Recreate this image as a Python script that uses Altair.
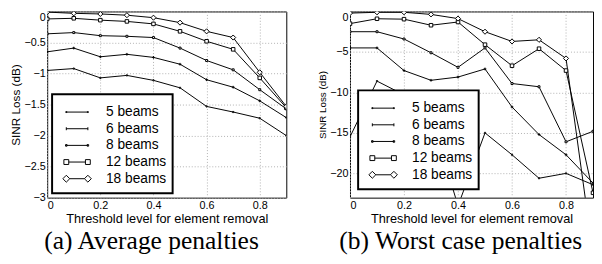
import altair as alt
import pandas as pd

thresholds = [0.0, 0.1, 0.2, 0.3, 0.4, 0.5, 0.6, 0.7, 0.8, 0.9]
series = ["5 beams", "6 beams", "8 beams", "12 beams", "18 beams"]

# (a) Average penalties, SINR loss in dB
avg_5 = [-0.95, -0.92, -1.07, -1.03, -1.11, -1.23, -1.53, -1.62, -1.72, -2.00]
avg_6 = [-0.65, -0.59, -0.73, -0.69, -0.74, -0.85, -1.10, -1.22, -1.44, -1.71]
avg_8 = [-0.36, -0.34, -0.39, -0.40, -0.42, -0.59, -0.79, -0.94, -1.26, -1.57]
avg_12 = [-0.12, -0.11, -0.14, -0.16, -0.20, -0.32, -0.48, -0.61, -1.07, -1.55]
avg_18 = [-0.01, -0.03, -0.04, -0.06, -0.10, -0.18, -0.32, -0.42, -0.98, -1.53]

# (b) Worst case penalties, SINR loss in dB
worst_5 = [-15.5, -8.6, -10.3, -13.0, -24.0, -15.0, -17.7, -20.6, -20.0, -21.4]
worst_6 = [-4.5, -4.5, -7.3, -8.5, -8.1, -7.1, -11.8, -15.2, -17.7, -21.2]
worst_8 = [-2.5, -2.5, -3.4, -5.1, -6.9, -4.5, -8.9, -9.3, -16.1, -14.8]
worst_12 = [-1.5, -0.9, -0.95, -1.7, -1.3, -4.1, -6.7, -4.6, -7.3, -22.4]
worst_18 = [-0.2, -0.1, -0.1, -0.36, -0.88, -2.5, -3.7, -3.5, -5.8, -30.0]

x_ticks = [0, 0.2, 0.4, 0.6, 0.8]
avg_ticks = [0, -0.5, -1, -1.5, -2, -2.5, -3]
worst_ticks = [0, -5, -10, -15, -20]
x_title = "Threshold level for element removal"
y_title = "SINR Loss (dB)"
captions = ["(a) Average penalties", "(b) Worst case penalties"]


def to_long(all_vals):
    rows = []
    for s, vals in zip(series, all_vals):
        for t, v in zip(thresholds, vals):
            rows.append({"threshold": t, "loss": v, "series": s})
    return pd.DataFrame(rows)


# marker glyphs for the plotted points (unit box scaled by size)
marker_paths = [
    "M-0.3,-0.3H0.3V0.3H-0.3Z",
    "M-0.7,0H0.7M0,-0.7V0.7",
    "M-0.5,-0.5H0.5V0.5H-0.5Z",
    "M-0.9,-0.9H0.9V0.9H-0.9Z",
    "M0,-1.3L1.3,0L0,1.3L-1.3,0Z",
]
# legend glyphs: a line sample with the marker at both ends (1 unit = 8 px)
legend_paths = [
    "M-1.375,0H1.375M-1.44,-0.06H-1.31V0.06H-1.44ZM1.31,-0.06H1.44V0.06H1.31Z",
    "M-1.375,0H1.375M-1.375,-0.19V0.19M1.375,-0.19V0.19",
    "M-1.375,0H1.375M-1.475,-0.1H-1.275V0.1H-1.475ZM1.275,-0.1H1.475V0.1H1.275Z",
    "M-1.065,0H1.065M-1.685,-0.31H-1.065V0.31H-1.685ZM1.065,-0.31H1.685V0.31H1.065Z",
    "M-0.935,0H0.935M-1.375,-0.44L-0.935,0L-1.375,0.44L-1.815,0ZM1.375,-0.44L1.815,0L1.375,0.44L0.935,0Z",
]

FONT = "Liberation Sans"
top_label_baseline = {"condition": {"test": "datum.value == 0", "value": "top"}, "value": "middle"}


def panel(df, ydom, yticks, ytitle_size, lx, ly, caption, cap_dx, width):
    x = alt.X(
        "threshold:Q",
        scale=alt.Scale(domain=[0, 0.9], nice=False, zero=False),
        axis=alt.Axis(values=x_ticks, title=x_title, format="~g"),
    )
    y = alt.Y(
        "loss:Q",
        scale=alt.Scale(domain=ydom, nice=False, zero=False),
        axis=alt.Axis(
            values=yticks,
            title=y_title,
            titleFontSize=ytitle_size,
            format="~g",
            labelBaseline=top_label_baseline,
        ),
    )
    base = alt.Chart(df)
    lines = base.mark_line(color="black", strokeWidth=1, clip=True).encode(
        x=x, y=y, detail="series:N"
    )
    pts = base.mark_point(
        filled=True, fill="white", stroke="black", strokeWidth=1, size=16, opacity=1, clip=True
    ).encode(
        x=x,
        y=y,
        shape=alt.Shape("series:N", scale=alt.Scale(domain=series, range=marker_paths), legend=None),
    )
    leg = base.transform_filter("false").mark_point(
        filled=False, color="black", strokeWidth=1, size=256, opacity=1
    ).encode(
        x=x,
        y=y,
        shape=alt.Shape(
            "series:N",
            scale=alt.Scale(domain=series, range=legend_paths),
            legend=alt.Legend(
                orient="none",
                legendX=lx,
                legendY=ly,
                title=" ",
                titleFontSize=4,
                titlePadding=0,
                strokeColor="black",
                fillColor="white",
                padding=6,
                symbolSize=256,
                symbolStrokeColor="black",
                symbolStrokeWidth=1,
                symbolOpacity=1,
                symbolOffset=11,
                labelOffset=21,
                labelFont=FONT,
                labelFontSize=14,
                labelColor="black",
                labelLimit=200,
                clipHeight=16.3,
                rowPadding=-1,
                labelExpr="(length(datum.label) < 8 ? '\u00a0' : '') + datum.label",
            ),
        ),
    )
    return (
        alt.layer(lines, pts, leg)
        .resolve_scale(shape="independent")
        .properties(
            width=width,
            height=190,
            title=alt.TitleParams(
                caption,
                orient="bottom",
                anchor="middle",
                frame="group",
                dx=cap_dx,
                offset=3,
                font="Liberation Serif",
                fontSize=26,
                fontWeight="normal",
                color="black",
            ),
        )
    )


left = panel(
    to_long([avg_5, avg_6, avg_8, avg_12, avg_18]),
    [-3, 0], avg_ticks, 12, 5, 84.5, captions[0], -15.5, 244,
)
right = panel(
    to_long([worst_5, worst_6, worst_8, worst_12, worst_18]),
    [-23, 0], worst_ticks, 10, 8.3, 80.5, captions[1], -11, 248,
)

chart = (
    alt.hconcat(left, right, spacing=30)
    .resolve_scale(x="independent", y="independent", shape="independent")
    .resolve_legend(shape="independent")
    .properties(padding={"left": 0, "top": 0, "right": 0, "bottom": 0})
    .configure_view(stroke="black", strokeWidth=1)
    .configure_axis(
        domain=False,
        ticks=False,
        grid=True,
        gridColor="#b0b0b0",
        gridDash=[1, 2],
        gridWidth=1,
        labelFont=FONT,
        labelFontSize=11,
        labelColor="black",
        titleFont=FONT,
        titleFontSize=13,
        titleFontWeight="normal",
        titleColor="black",
    )
    .configure_axisLeft(labelPadding=2, titlePadding=2)
    .configure_axisBottom(labelPadding=2, titlePadding=2)
    .configure_legend(strokeWidth=2)
)

chart.save("out.html", embed_options={"renderer": "svg", "actions": False})
